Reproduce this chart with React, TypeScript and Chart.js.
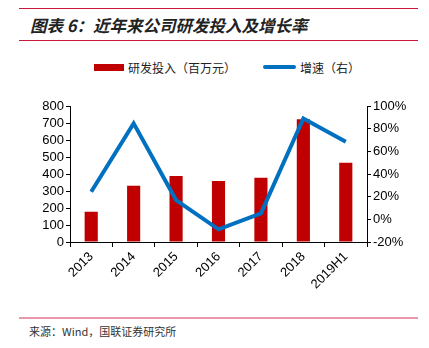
import React, { useEffect, useRef } from "react";
import { Chart, registerables } from "chart.js";

Chart.register(...registerables);

const categories = ["2013", "2014", "2015", "2016", "2017", "2018", "2019H1"];
const rdInvestment = [178, 331, 388, 359, 378, 722, 466];
const growthRate = [24.4, 84.7, 17, -8.8, 5.3, 89, 68.5];
const leftTicks = [0, 100, 200, 300, 400, 500, 600, 700, 800];
const rightTicks = [-20, 0, 20, 40, 60, 80, 100];
const barLabel = "研发投入（百万元）";
const lineLabel = "增速（右）";
const titleText = "图表 6：近年来公司研发投入及增长率";
const sourceText = "来源：Wind，国联证券研究所";

const RED = "#C00000";
const BLUE = "#0070C0";
const TICK_FONT = { family: "'Liberation Sans', Arial, sans-serif", size: 13 };

export default function App() {
  const ref = useRef<HTMLCanvasElement | null>(null);

  useEffect(() => {
    if (!ref.current) return;
    const chart = new Chart(ref.current, {
      type: "bar",
      data: {
        labels: categories,
        datasets: [
          {
            type: "line",
            label: lineLabel,
            data: growthRate,
            borderColor: BLUE,
            backgroundColor: BLUE,
            borderWidth: 4,
            pointRadius: 0,
            tension: 0,
            yAxisID: "y1",
            order: 0,
          },
          {
            type: "bar",
            label: barLabel,
            data: rdInvestment,
            backgroundColor: RED,
            categoryPercentage: 0.62,
            barPercentage: 0.5,
            yAxisID: "y",
            order: 1,
          },
        ],
      },
      options: {
        animation: false,
        responsive: false,
        maintainAspectRatio: false,
        layout: { padding: { top: 16, left: 0, right: 0, bottom: 0 } },
        plugins: { legend: { display: false }, tooltip: { enabled: false } },
        scales: {
          x: {
            offset: true,
            grid: {
              display: true,
              offset: true,
              drawOnChartArea: false,
              drawTicks: true,
              tickLength: 5,
              color: "#000",
            },
            border: { display: true, color: "#000", width: 1 },
            ticks: { color: "#000", font: TICK_FONT, minRotation: 45, maxRotation: 45, padding: 2, autoSkip: false },
            afterFit: (s: any) => {
              s.height = 68;
            },
          },
          y: {
            position: "left",
            min: 0,
            max: 800,
            afterBuildTicks: (s: any) => {
              s.ticks = leftTicks.map((v) => ({ value: v }));
            },
            grid: { display: true, drawOnChartArea: false, drawTicks: true, tickLength: 4, color: "#000" },
            border: { display: true, color: "#000", width: 1 },
            ticks: { color: "#000", font: TICK_FONT, padding: 2, autoSkip: false },
            afterFit: (s: any) => {
              s.width = 70;
            },
          },
          y1: {
            position: "right",
            min: -20,
            max: 100,
            afterBuildTicks: (s: any) => {
              s.ticks = rightTicks.map((v) => ({ value: v }));
            },
            grid: { display: true, drawOnChartArea: false, drawTicks: true, tickLength: 4, color: "#000" },
            border: { display: true, color: "#000", width: 1 },
            ticks: { color: "#000", font: TICK_FONT, padding: 2, autoSkip: false, callback: (v: any) => v + "%" },
            afterFit: (s: any) => {
              s.width = 62;
            },
          },
        },
      },
    });
    return () => chart.destroy();
  }, []);

  const cjk = "'Noto Sans CJK SC', sans-serif";

  return (
    <div style={{ position: "absolute", left: 0, top: 0, width: 429, height: 348, background: "#fff", overflow: "hidden" }}>
      <div style={{ position: "absolute", left: 19, top: 8, width: 399, height: 1, background: "#C8193C" }} />
      <div
        style={{
          position: "absolute",
          left: 30,
          top: 13,
          fontFamily: cjk,
          fontSize: 16.5,
          fontWeight: 700,
          fontStyle: "italic",
          color: "#222",
          lineHeight: "24px",
          whiteSpace: "nowrap",
        }}
      >
        {titleText}
      </div>
      <div style={{ position: "absolute", left: 19, top: 40, width: 399, height: 1, background: "#C8193C" }} />

      <div style={{ position: "absolute", left: 94, top: 64, width: 30, height: 7, background: RED }} />
      <div style={{ position: "absolute", left: 128, top: 59, fontFamily: cjk, fontSize: 12, color: "#222", lineHeight: "17px", whiteSpace: "nowrap" }}>
        {barLabel}
      </div>
      <div style={{ position: "absolute", left: 263, top: 65, width: 33, height: 4, borderRadius: 2, background: BLUE }} />
      <div style={{ position: "absolute", left: 300, top: 59, fontFamily: cjk, fontSize: 12, color: "#222", lineHeight: "17px", whiteSpace: "nowrap" }}>
        {lineLabel}
      </div>

      <canvas ref={ref} width={429} height={220} style={{ position: "absolute", left: 0, top: 90, width: 429, height: 220 }} />

      <div style={{ position: "absolute", left: 19, top: 317, width: 399, height: 2, background: "#E898A8" }} />
      <div style={{ position: "absolute", left: 29, top: 323, fontFamily: cjk, fontSize: 11, color: "#333", lineHeight: "16px", whiteSpace: "nowrap" }}>
        {sourceText}
      </div>
    </div>
  );
}
